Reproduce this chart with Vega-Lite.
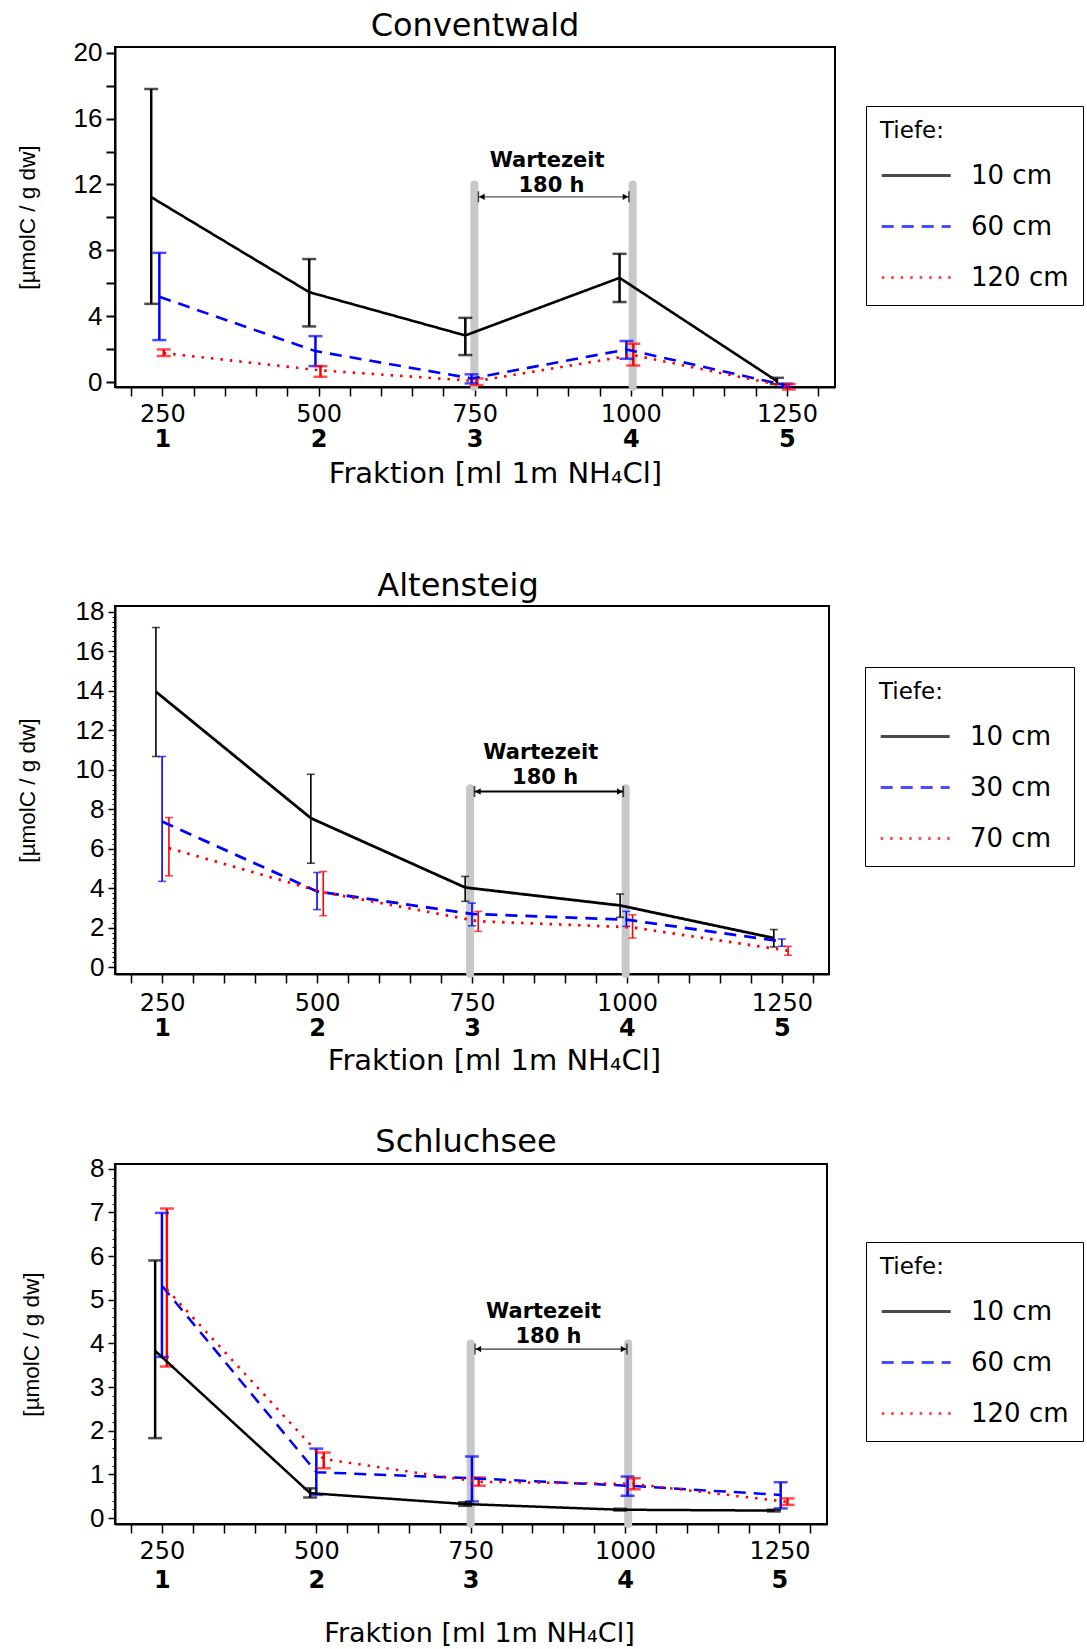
{
"$schema": "https://vega.github.io/schema/vega-lite/v6.json",
"background": "white",
"padding": {"left": 15, "top": 8, "right": 0, "bottom": 0},
"spacing": 79,
"config": {
  "font": "DejaVu Sans",
  "view": {"stroke": "black", "strokeWidth": 2},
  "axis": {"labelColor": "black", "tickColor": "black", "domainColor": "black", "titleColor": "black", "grid": false},
  "title": {"color": "black", "font": "DejaVu Sans", "fontSize": 32, "fontWeight": "normal", "frame": "group", "anchor": "middle"}
},
"resolve": {"scale": {"x": "independent", "y": "independent", "color": "independent", "strokeDash": "independent", "shape": "independent"}, "legend": {"color": "independent", "strokeDash": "independent"}},
"datasets": {
  "c_pts": [
    {"Tiefe": "10 cm", "x": 232, "y": 11.23, "lo": 4.75, "hi": 17.8},
    {"Tiefe": "10 cm", "x": 485, "y": 5.46, "lo": 3.38, "hi": 7.47},
    {"Tiefe": "10 cm", "x": 735, "y": 2.83, "lo": 1.64, "hi": 3.9},
    {"Tiefe": "10 cm", "x": 982, "y": 6.33, "lo": 4.86, "hi": 7.79},
    {"Tiefe": "10 cm", "x": 1234, "y": 0.06, "lo": -0.12, "hi": 0.26},
    {"Tiefe": "60 cm", "x": 245, "y": 5.18, "lo": 2.55, "hi": 7.85},
    {"Tiefe": "60 cm", "x": 495, "y": 1.88, "lo": 0.97, "hi": 2.79},
    {"Tiefe": "60 cm", "x": 745, "y": 0.22, "lo": -0.08, "hi": 0.47},
    {"Tiefe": "60 cm", "x": 993, "y": 1.98, "lo": 1.42, "hi": 2.49},
    {"Tiefe": "60 cm", "x": 1248, "y": -0.2, "lo": -0.3, "hi": -0.1},
    {"Tiefe": "120 cm", "x": 252, "y": 1.76, "lo": 1.58, "hi": 1.98},
    {"Tiefe": "120 cm", "x": 503, "y": 0.71, "lo": 0.32, "hi": 0.97},
    {"Tiefe": "120 cm", "x": 753, "y": 0.06, "lo": -0.18, "hi": 0.22},
    {"Tiefe": "120 cm", "x": 1004, "y": 1.64, "lo": 1.01, "hi": 2.33},
    {"Tiefe": "120 cm", "x": 1253, "y": -0.3, "lo": -0.45, "hi": -0.12}
  ],
  "c_band": [{"x": 749.5, "y1": -0.3, "y2": 12.0}, {"x": 1003, "y1": -0.3, "y2": 12.0}],
  "c_arrow": [{"x1": 756, "x2": 997, "y": 11.25}],
  "c_head": [{"xb": 756, "xt": 761.5, "y": 11.25, "d": "l"}, {"xb": 997, "xt": 991.5, "y": 11.25, "d": "r"}],
  "c_text": [{"x": 866, "y": 13.42, "t": "Wartezeit"}, {"x": 873, "y": 11.9, "t": "180 h"}],
  "a_pts": [
    {"Tiefe": "10 cm", "x": 240, "y": 13.95, "lo": 10.67, "hi": 17.2},
    {"Tiefe": "10 cm", "x": 490, "y": 7.55, "lo": 5.27, "hi": 9.77},
    {"Tiefe": "10 cm", "x": 739, "y": 4.04, "lo": 3.34, "hi": 4.6},
    {"Tiefe": "10 cm", "x": 989, "y": 3.13, "lo": 2.53, "hi": 3.71},
    {"Tiefe": "10 cm", "x": 1237, "y": 1.48, "lo": 1.03, "hi": 1.91},
    {"Tiefe": "30 cm", "x": 250, "y": 7.38, "lo": 4.35, "hi": 10.67},
    {"Tiefe": "30 cm", "x": 500, "y": 3.84, "lo": 2.92, "hi": 4.8},
    {"Tiefe": "30 cm", "x": 750, "y": 2.7, "lo": 2.1, "hi": 3.25},
    {"Tiefe": "30 cm", "x": 999, "y": 2.41, "lo": 2.07, "hi": 2.83},
    {"Tiefe": "30 cm", "x": 1250, "y": 1.31, "lo": 1.06, "hi": 1.43},
    {"Tiefe": "70  cm", "x": 261, "y": 6.03, "lo": 4.63, "hi": 7.58},
    {"Tiefe": "70  cm", "x": 510, "y": 3.8, "lo": 2.61, "hi": 4.85},
    {"Tiefe": "70  cm", "x": 760, "y": 2.33, "lo": 1.82, "hi": 2.83},
    {"Tiefe": "70  cm", "x": 1009, "y": 2.02, "lo": 1.48, "hi": 2.66},
    {"Tiefe": "70  cm", "x": 1260, "y": 0.84, "lo": 0.61, "hi": 1.06}
  ],
  "a_band": [{"x": 747, "y1": -0.34, "y2": 9.06}, {"x": 998, "y1": -0.34, "y2": 9.06}],
  "a_arrow": [{"x1": 754, "x2": 994, "y": 8.9}],
  "a_head": [{"xb": 754, "xt": 759.5, "y": 8.9, "d": "l"}, {"xb": 994, "xt": 988.5, "y": 8.9, "d": "r"}],
  "a_text": [{"x": 861, "y": 10.83, "t": "Wartezeit"}, {"x": 868, "y": 9.57, "t": "180 h"}],
  "s_pts": [
    {"Tiefe": "10 cm", "x": 239, "y": 3.83, "lo": 1.83, "hi": 5.9},
    {"Tiefe": "10 cm", "x": 490, "y": 0.57, "lo": 0.47, "hi": 0.68},
    {"Tiefe": "10 cm", "x": 741, "y": 0.32, "lo": 0.28, "hi": 0.36},
    {"Tiefe": "10 cm", "x": 992, "y": 0.19, "lo": 0.17, "hi": 0.21},
    {"Tiefe": "10 cm", "x": 1241, "y": 0.17, "lo": 0.15, "hi": 0.19},
    {"Tiefe": "60 cm", "x": 250, "y": 5.32, "lo": 3.69, "hi": 6.99},
    {"Tiefe": "60 cm", "x": 500, "y": 1.05, "lo": 0.53, "hi": 1.59},
    {"Tiefe": "60 cm", "x": 752, "y": 0.91, "lo": 0.38, "hi": 1.41},
    {"Tiefe": "60 cm", "x": 1004, "y": 0.74, "lo": 0.51, "hi": 0.95},
    {"Tiefe": "60 cm", "x": 1252, "y": 0.53, "lo": 0.22, "hi": 0.82},
    {"Tiefe": "120 cm", "x": 258, "y": 5.24, "lo": 3.47, "hi": 7.09},
    {"Tiefe": "120 cm", "x": 512, "y": 1.35, "lo": 1.14, "hi": 1.5},
    {"Tiefe": "120 cm", "x": 763, "y": 0.83, "lo": 0.74, "hi": 0.93},
    {"Tiefe": "120 cm", "x": 1014, "y": 0.78, "lo": 0.66, "hi": 0.91},
    {"Tiefe": "120 cm", "x": 1263, "y": 0.37, "lo": 0.3, "hi": 0.45}
  ],
  "s_band": [{"x": 750, "y1": -0.137, "y2": 4.0}, {"x": 1005, "y1": -0.137, "y2": 4.0}],
  "s_arrow": [{"x1": 757, "x2": 1003, "y": 3.87}],
  "s_head": [{"xb": 757, "xt": 762.5, "y": 3.87, "d": "l"}, {"xb": 1003, "xt": 997.5, "y": 3.87, "d": "r"}],
  "s_text": [{"x": 868, "y": 4.72, "t": "Wartezeit"}, {"x": 876, "y": 4.15, "t": "180 h"}]
},
"vconcat": [
{
  "title": {"text": "Conventwald", "offset": -3},
  "width": 720, "height": 340,
  "resolve": {"axis": {"x": "independent", "y": "independent"}},
  "layer": [
    {"data": {"name": "c_band"}, "mark": {"type": "rule", "stroke": "#c8c8c8", "strokeWidth": 8, "strokeCap": "round"},
     "encoding": {"x": {"field": "x", "type": "quantitative", "scale": {"domain": [174, 1327], "nice": false, "zero": false}, "axis": null},
                  "y": {"field": "y1", "type": "quantitative", "scale": {"domain": [-0.3, 20.35], "nice": false, "zero": false}, "axis": null},
                  "y2": {"field": "y2"}}},
    {"data": {"name": "c_arrow"}, "mark": {"type": "rule", "stroke": "#555555", "strokeWidth": 1.2},
     "encoding": {"x": {"field": "x1", "type": "quantitative", "scale": {"domain": [174, 1327], "nice": false, "zero": false}, "axis": null}, "x2": {"field": "x2"},
                  "y": {"field": "y", "type": "quantitative", "scale": {"domain": [-0.3, 20.35], "nice": false, "zero": false}, "axis": null}}},
    {"data": {"name": "c_head"}, "mark": {"type": "tick", "orient": "vertical", "color": "black", "size": 11, "thickness": 1.5},
     "encoding": {"x": {"field": "xb", "type": "quantitative", "scale": {"domain": [174, 1327], "nice": false, "zero": false}, "axis": null},
                  "y": {"field": "y", "type": "quantitative", "scale": {"domain": [-0.3, 20.35], "nice": false, "zero": false}, "axis": null}}},
    {"data": {"name": "c_head"}, "mark": {"type": "point", "filled": true, "color": "black", "size": 40, "opacity": 1},
     "encoding": {"x": {"field": "xt", "type": "quantitative", "scale": {"domain": [174, 1327], "nice": false, "zero": false}, "axis": null},
                  "y": {"field": "y", "type": "quantitative", "scale": {"domain": [-0.3, 20.35], "nice": false, "zero": false}, "axis": null},
                  "shape": {"field": "d", "type": "nominal", "scale": {"domain": ["l", "r"], "range": ["triangle-left", "triangle-right"]}, "legend": null}}},
    {"data": {"name": "c_text"}, "mark": {"type": "text", "fontSize": 21, "fontWeight": "bold", "color": "black", "baseline": "middle", "align": "center"},
     "encoding": {"x": {"field": "x", "type": "quantitative", "scale": {"domain": [174, 1327], "nice": false, "zero": false}, "axis": null},
                  "y": {"field": "y", "type": "quantitative", "scale": {"domain": [-0.3, 20.35], "nice": false, "zero": false}, "axis": null},
                  "text": {"field": "t"}}},
    {"data": {"name": "c_pts"}, "mark": {"type": "rule", "strokeWidth": 2.5},
     "encoding": {"x": {"field": "x", "type": "quantitative", "scale": {"domain": [174, 1327], "nice": false, "zero": false},
                        "axis": {"orient": "bottom", "values": [250, 500, 750, 1000, 1250], "labelExpr": "format(datum.value/250,'d')", "ticks": false, "tickSize": 0, "domain": false, "offset": 40, "labelPadding": 0, "labelFontSize": 24, "labelFontWeight": "bold", "labelFlush": false, "title": "Fraktion [ml 1m NH₄Cl]", "titleFontSize": 29, "titleFontWeight": "normal", "titlePadding": 8, "titleX": 380}},
                  "y": {"field": "lo", "type": "quantitative", "scale": {"domain": [-0.3, 20.35], "nice": false, "zero": false}, "axis": null},
                  "y2": {"field": "hi"},
                  "color": {"field": "Tiefe", "type": "nominal", "scale": {"domain": ["10 cm", "60 cm", "120 cm"], "range": ["#000000", "#0000ff", "#ff0000"]},
                            "legend": {"orient": "none", "legendX": 751, "legendY": 59, "title": "Tiefe:", "symbolType": "M-1,0H4", "symbolSize": 762, "symbolStrokeWidth": 3, "labelOffset": 60, "rowPadding": 22, "titlePadding": 17, "padding": 14, "strokeColor": "black", "fillColor": "white", "labelFontSize": 26, "titleFontSize": 23, "titleFontWeight": "normal", "labelColor": "black", "titleColor": "black"}}}},
    {"data": {"name": "c_pts"}, "mark": {"type": "tick", "orient": "horizontal", "size": 14, "thickness": 2.5},
     "encoding": {"x": {"field": "x", "type": "quantitative", "scale": {"domain": [174, 1327], "nice": false, "zero": false}, "axis": null},
                  "y": {"field": "lo", "type": "quantitative", "scale": {"domain": [-0.3, 20.35], "nice": false, "zero": false}, "axis": null},
                  "color": {"field": "Tiefe", "type": "nominal", "scale": {"domain": ["10 cm", "60 cm", "120 cm"], "range": ["#000000", "#0000ff", "#ff0000"]},
                            "legend": {"orient": "none", "legendX": 751, "legendY": 59, "title": "Tiefe:", "symbolType": "M-1,0H4", "symbolSize": 762, "symbolStrokeWidth": 3, "labelOffset": 60, "rowPadding": 22, "titlePadding": 17, "padding": 14, "strokeColor": "black", "fillColor": "white", "labelFontSize": 26, "titleFontSize": 23, "titleFontWeight": "normal", "labelColor": "black", "titleColor": "black"}}}},
    {"data": {"name": "c_pts"}, "mark": {"type": "tick", "orient": "horizontal", "size": 14, "thickness": 2.5},
     "encoding": {"x": {"field": "x", "type": "quantitative", "scale": {"domain": [174, 1327], "nice": false, "zero": false}, "axis": null},
                  "y": {"field": "hi", "type": "quantitative", "scale": {"domain": [-0.3, 20.35], "nice": false, "zero": false}, "axis": null},
                  "color": {"field": "Tiefe", "type": "nominal", "scale": {"domain": ["10 cm", "60 cm", "120 cm"], "range": ["#000000", "#0000ff", "#ff0000"]},
                            "legend": {"orient": "none", "legendX": 751, "legendY": 59, "title": "Tiefe:", "symbolType": "M-1,0H4", "symbolSize": 762, "symbolStrokeWidth": 3, "labelOffset": 60, "rowPadding": 22, "titlePadding": 17, "padding": 14, "strokeColor": "black", "fillColor": "white", "labelFontSize": 26, "titleFontSize": 23, "titleFontWeight": "normal", "labelColor": "black", "titleColor": "black"}}}},
    {"data": {"name": "c_pts"}, "mark": {"type": "line", "strokeWidth": 2.6},
     "encoding": {"x": {"field": "x", "type": "quantitative", "scale": {"domain": [174, 1327], "nice": false, "zero": false},
                        "axis": {"orient": "bottom", "values": [200, 250, 300, 350, 400, 450, 500, 550, 600, 650, 700, 750, 800, 850, 900, 950, 1000, 1050, 1100, 1150, 1200, 1250, 1300], "format": "d", "labelExpr": "datum.value % 250 == 0 ? datum.label : ''", "tickSize": 9, "tickWidth": 1.5, "labelFontSize": 24, "labelPadding": 6, "labelFlush": false, "labelOverlap": false, "domainWidth": 2, "title": null}},
                  "y": {"field": "y", "type": "quantitative", "scale": {"domain": [-0.3, 20.35], "nice": false, "zero": false},
                        "axis": {"orient": "left", "values": [0, 2, 4, 6, 8, 10, 12, 14, 16, 18, 20], "labelExpr": "datum.value % 4 == 0 ? datum.label : ''", "tickSize": 9, "tickWidth": 2, "labelFont": "Liberation Sans", "labelFontSize": 26, "labelPadding": 4, "domainWidth": 2, "title": "[µmolC / g dw]", "titleFont": "Liberation Sans", "titleFontSize": 22.5, "titleFontWeight": "normal", "titlePadding": 34}},
                  "color": {"field": "Tiefe", "type": "nominal", "scale": {"domain": ["10 cm", "60 cm", "120 cm"], "range": ["#000000", "#0000ff", "#ff0000"]},
                            "legend": {"orient": "none", "legendX": 751, "legendY": 59, "title": "Tiefe:", "symbolType": "M-1,0H4", "symbolSize": 762, "symbolStrokeWidth": 3, "labelOffset": 60, "rowPadding": 22, "titlePadding": 17, "padding": 14, "strokeColor": "black", "fillColor": "white", "labelFontSize": 26, "titleFontSize": 23, "titleFontWeight": "normal", "labelColor": "black", "titleColor": "black"}},
                  "strokeDash": {"field": "Tiefe", "type": "nominal", "scale": {"domain": ["10 cm", "60 cm", "120 cm"], "range": [[1, 0], [12, 8], [2.5, 7]]},
                            "legend": {"orient": "none", "legendX": 751, "legendY": 59, "title": "Tiefe:", "symbolType": "M-1,0H4", "symbolSize": 762, "symbolStrokeWidth": 3, "labelOffset": 60, "rowPadding": 22, "titlePadding": 17, "padding": 14, "strokeColor": "black", "fillColor": "white", "labelFontSize": 26, "titleFontSize": 23, "titleFontWeight": "normal", "labelColor": "black", "titleColor": "black"}}}}
  ]
},
{
"spacing": 48,
"resolve": {"scale": {"x": "independent", "y": "independent", "color": "independent", "strokeDash": "independent", "shape": "independent"}, "legend": {"color": "independent", "strokeDash": "independent"}},
"vconcat": [
{
  "title": {"text": "Altensteig", "dx": -14, "offset": -4},
  "width": 714, "height": 368,
  "resolve": {"axis": {"x": "independent", "y": "independent"}},
  "layer": [
    {"data": {"name": "a_band"}, "mark": {"type": "rule", "stroke": "#c8c8c8", "strokeWidth": 8, "strokeCap": "round"},
     "encoding": {"x": {"field": "x", "type": "quantitative", "scale": {"domain": [174, 1326], "nice": false, "zero": false}, "axis": null},
                  "y": {"field": "y1", "type": "quantitative", "scale": {"domain": [-0.34, 18.29], "nice": false, "zero": false},
                        "axis": {"orient": "left", "values": [0, 0.25, 0.5, 0.75, 1, 1.25, 1.5, 1.75, 2, 2.25, 2.5, 2.75, 3, 3.25, 3.5, 3.75, 4, 4.25, 4.5, 4.75, 5, 5.25, 5.5, 5.75, 6, 6.25, 6.5, 6.75, 7, 7.25, 7.5, 7.75, 8, 8.25, 8.5, 8.75, 9, 9.25, 9.5, 9.75, 10, 10.25, 10.5, 10.75, 11, 11.25, 11.5, 11.75, 12, 12.25, 12.5, 12.75, 13, 13.25, 13.5, 13.75, 14, 14.25, 14.5, 14.75, 15, 15.25, 15.5, 15.75, 16, 16.25, 16.5, 16.75, 17, 17.25, 17.5, 17.75, 18], "labels": false, "tickSize": 3, "tickWidth": 1, "domain": false, "title": null}},
                  "y2": {"field": "y2"}}},
    {"data": {"name": "a_arrow"}, "mark": {"type": "rule", "stroke": "black", "strokeWidth": 2},
     "encoding": {"x": {"field": "x1", "type": "quantitative", "scale": {"domain": [174, 1326], "nice": false, "zero": false}, "axis": null}, "x2": {"field": "x2"},
                  "y": {"field": "y", "type": "quantitative", "scale": {"domain": [-0.34, 18.29], "nice": false, "zero": false}, "axis": null}}},
    {"data": {"name": "a_head"}, "mark": {"type": "tick", "orient": "vertical", "color": "black", "size": 11, "thickness": 1.8},
     "encoding": {"x": {"field": "xb", "type": "quantitative", "scale": {"domain": [174, 1326], "nice": false, "zero": false}, "axis": null},
                  "y": {"field": "y", "type": "quantitative", "scale": {"domain": [-0.34, 18.29], "nice": false, "zero": false}, "axis": null}}},
    {"data": {"name": "a_head"}, "mark": {"type": "point", "filled": true, "color": "black", "size": 40, "opacity": 1},
     "encoding": {"x": {"field": "xt", "type": "quantitative", "scale": {"domain": [174, 1326], "nice": false, "zero": false}, "axis": null},
                  "y": {"field": "y", "type": "quantitative", "scale": {"domain": [-0.34, 18.29], "nice": false, "zero": false}, "axis": null},
                  "shape": {"field": "d", "type": "nominal", "scale": {"domain": ["l", "r"], "range": ["triangle-left", "triangle-right"]}, "legend": null}}},
    {"data": {"name": "a_text"}, "mark": {"type": "text", "fontSize": 21, "fontWeight": "bold", "color": "black", "baseline": "middle", "align": "center"},
     "encoding": {"x": {"field": "x", "type": "quantitative", "scale": {"domain": [174, 1326], "nice": false, "zero": false}, "axis": null},
                  "y": {"field": "y", "type": "quantitative", "scale": {"domain": [-0.34, 18.29], "nice": false, "zero": false}, "axis": null},
                  "text": {"field": "t"}}},
    {"data": {"name": "a_pts"}, "mark": {"type": "rule", "strokeWidth": 1.6},
     "encoding": {"x": {"field": "x", "type": "quantitative", "scale": {"domain": [174, 1326], "nice": false, "zero": false},
                        "axis": {"orient": "bottom", "values": [250, 500, 750, 1000, 1250], "labelExpr": "format(datum.value/250,'d')", "ticks": false, "tickSize": 0, "domain": false, "offset": 42, "labelPadding": 0, "labelFontSize": 24, "labelFontWeight": "bold", "labelFlush": false, "title": "Fraktion [ml 1m NH₄Cl]", "titleFontSize": 29, "titleFontWeight": "normal", "titlePadding": 6, "titleX": 379}},
                  "y": {"field": "lo", "type": "quantitative", "scale": {"domain": [-0.34, 18.29], "nice": false, "zero": false}, "axis": null},
                  "y2": {"field": "hi"},
                  "color": {"field": "Tiefe", "type": "nominal", "scale": {"domain": ["10 cm", "30 cm", "70  cm"], "range": ["#000000", "#0000ff", "#ff0000"]},
                            "legend": {"orient": "none", "legendX": 750, "legendY": 61, "title": "Tiefe:", "symbolType": "M-1,0H4", "symbolSize": 762, "symbolStrokeWidth": 3, "labelOffset": 60, "rowPadding": 22, "titlePadding": 17, "padding": 14, "strokeColor": "black", "fillColor": "white", "labelFontSize": 26, "titleFontSize": 23, "titleFontWeight": "normal", "labelColor": "black", "titleColor": "black"}}}},
    {"data": {"name": "a_pts"}, "mark": {"type": "tick", "orient": "horizontal", "size": 8, "thickness": 1.6},
     "encoding": {"x": {"field": "x", "type": "quantitative", "scale": {"domain": [174, 1326], "nice": false, "zero": false}, "axis": null},
                  "y": {"field": "lo", "type": "quantitative", "scale": {"domain": [-0.34, 18.29], "nice": false, "zero": false}, "axis": null},
                  "color": {"field": "Tiefe", "type": "nominal", "scale": {"domain": ["10 cm", "30 cm", "70  cm"], "range": ["#000000", "#0000ff", "#ff0000"]},
                            "legend": {"orient": "none", "legendX": 750, "legendY": 61, "title": "Tiefe:", "symbolType": "M-1,0H4", "symbolSize": 762, "symbolStrokeWidth": 3, "labelOffset": 60, "rowPadding": 22, "titlePadding": 17, "padding": 14, "strokeColor": "black", "fillColor": "white", "labelFontSize": 26, "titleFontSize": 23, "titleFontWeight": "normal", "labelColor": "black", "titleColor": "black"}}}},
    {"data": {"name": "a_pts"}, "mark": {"type": "tick", "orient": "horizontal", "size": 8, "thickness": 1.6},
     "encoding": {"x": {"field": "x", "type": "quantitative", "scale": {"domain": [174, 1326], "nice": false, "zero": false}, "axis": null},
                  "y": {"field": "hi", "type": "quantitative", "scale": {"domain": [-0.34, 18.29], "nice": false, "zero": false}, "axis": null},
                  "color": {"field": "Tiefe", "type": "nominal", "scale": {"domain": ["10 cm", "30 cm", "70  cm"], "range": ["#000000", "#0000ff", "#ff0000"]},
                            "legend": {"orient": "none", "legendX": 750, "legendY": 61, "title": "Tiefe:", "symbolType": "M-1,0H4", "symbolSize": 762, "symbolStrokeWidth": 3, "labelOffset": 60, "rowPadding": 22, "titlePadding": 17, "padding": 14, "strokeColor": "black", "fillColor": "white", "labelFontSize": 26, "titleFontSize": 23, "titleFontWeight": "normal", "labelColor": "black", "titleColor": "black"}}}},
    {"data": {"name": "a_pts"}, "mark": {"type": "line", "strokeWidth": 2.8},
     "encoding": {"x": {"field": "x", "type": "quantitative", "scale": {"domain": [174, 1326], "nice": false, "zero": false},
                        "axis": {"orient": "bottom", "values": [200, 250, 300, 350, 400, 450, 500, 550, 600, 650, 700, 750, 800, 850, 900, 950, 1000, 1050, 1100, 1150, 1200, 1250, 1300], "format": "d", "labelExpr": "datum.value % 250 == 0 ? datum.label : ''", "tickSize": 9, "tickWidth": 1.5, "labelFontSize": 24, "labelPadding": 8, "labelFlush": false, "labelOverlap": false, "domainWidth": 2, "title": null}},
                  "y": {"field": "y", "type": "quantitative", "scale": {"domain": [-0.34, 18.29], "nice": false, "zero": false},
                        "axis": {"orient": "left", "values": [0, 2, 4, 6, 8, 10, 12, 14, 16, 18], "tickSize": 7, "tickWidth": 1.5, "labelFont": "Liberation Sans", "labelFontSize": 26, "labelPadding": 4, "domainWidth": 2, "title": "[µmolC / g dw]", "titleFont": "Liberation Sans", "titleFontSize": 22.5, "titleFontWeight": "normal", "titlePadding": 36}},
                  "color": {"field": "Tiefe", "type": "nominal", "scale": {"domain": ["10 cm", "30 cm", "70  cm"], "range": ["#000000", "#0000ff", "#ff0000"]},
                            "legend": {"orient": "none", "legendX": 750, "legendY": 61, "title": "Tiefe:", "symbolType": "M-1,0H4", "symbolSize": 762, "symbolStrokeWidth": 3, "labelOffset": 60, "rowPadding": 22, "titlePadding": 17, "padding": 14, "strokeColor": "black", "fillColor": "white", "labelFontSize": 26, "titleFontSize": 23, "titleFontWeight": "normal", "labelColor": "black", "titleColor": "black"}},
                  "strokeDash": {"field": "Tiefe", "type": "nominal", "scale": {"domain": ["10 cm", "30 cm", "70  cm"], "range": [[1, 0], [12, 8], [2.5, 7]]},
                            "legend": {"orient": "none", "legendX": 750, "legendY": 61, "title": "Tiefe:", "symbolType": "M-1,0H4", "symbolSize": 762, "symbolStrokeWidth": 3, "labelOffset": 60, "rowPadding": 22, "titlePadding": 17, "padding": 14, "strokeColor": "black", "fillColor": "white", "labelFontSize": 26, "titleFontSize": 23, "titleFontWeight": "normal", "labelColor": "black", "titleColor": "black"}}}}
  ]
},
{
  "title": {"text": "Schluchsee", "dx": -5, "offset": -3},
  "width": 712, "height": 360,
  "resolve": {"axis": {"x": "independent", "y": "independent"}},
  "layer": [
    {"data": {"name": "s_band"}, "mark": {"type": "rule", "stroke": "#c8c8c8", "strokeWidth": 8, "strokeCap": "round"},
     "encoding": {"x": {"field": "x", "type": "quantitative", "scale": {"domain": [174, 1327], "nice": false, "zero": false}, "axis": null},
                  "y": {"field": "y1", "type": "quantitative", "scale": {"domain": [-0.137, 8.11], "nice": false, "zero": false},
                        "axis": {"orient": "left", "values": [0, 0.2, 0.4, 0.6, 0.8, 1, 1.2, 1.4, 1.6, 1.8, 2, 2.2, 2.4, 2.6, 2.8, 3, 3.2, 3.4, 3.6, 3.8, 4, 4.2, 4.4, 4.6, 4.8, 5, 5.2, 5.4, 5.6, 5.8, 6, 6.2, 6.4, 6.6, 6.8, 7, 7.2, 7.4, 7.6, 7.8, 8], "labels": false, "tickSize": 3, "tickWidth": 1, "domain": false, "title": null}},
                  "y2": {"field": "y2"}}},
    {"data": {"name": "s_arrow"}, "mark": {"type": "rule", "stroke": "#333333", "strokeWidth": 1.3},
     "encoding": {"x": {"field": "x1", "type": "quantitative", "scale": {"domain": [174, 1327], "nice": false, "zero": false}, "axis": null}, "x2": {"field": "x2"},
                  "y": {"field": "y", "type": "quantitative", "scale": {"domain": [-0.137, 8.11], "nice": false, "zero": false}, "axis": null}}},
    {"data": {"name": "s_head"}, "mark": {"type": "tick", "orient": "vertical", "color": "black", "size": 11, "thickness": 1.5},
     "encoding": {"x": {"field": "xb", "type": "quantitative", "scale": {"domain": [174, 1327], "nice": false, "zero": false}, "axis": null},
                  "y": {"field": "y", "type": "quantitative", "scale": {"domain": [-0.137, 8.11], "nice": false, "zero": false}, "axis": null}}},
    {"data": {"name": "s_head"}, "mark": {"type": "point", "filled": true, "color": "black", "size": 40, "opacity": 1},
     "encoding": {"x": {"field": "xt", "type": "quantitative", "scale": {"domain": [174, 1327], "nice": false, "zero": false}, "axis": null},
                  "y": {"field": "y", "type": "quantitative", "scale": {"domain": [-0.137, 8.11], "nice": false, "zero": false}, "axis": null},
                  "shape": {"field": "d", "type": "nominal", "scale": {"domain": ["l", "r"], "range": ["triangle-left", "triangle-right"]}, "legend": null}}},
    {"data": {"name": "s_text"}, "mark": {"type": "text", "fontSize": 21, "fontWeight": "bold", "color": "black", "baseline": "middle", "align": "center"},
     "encoding": {"x": {"field": "x", "type": "quantitative", "scale": {"domain": [174, 1327], "nice": false, "zero": false}, "axis": null},
                  "y": {"field": "y", "type": "quantitative", "scale": {"domain": [-0.137, 8.11], "nice": false, "zero": false}, "axis": null},
                  "text": {"field": "t"}}},
    {"data": {"name": "s_pts"}, "mark": {"type": "rule", "strokeWidth": 2.5},
     "encoding": {"x": {"field": "x", "type": "quantitative", "scale": {"domain": [174, 1327], "nice": false, "zero": false},
                        "axis": {"orient": "bottom", "values": [250, 500, 750, 1000, 1250], "labelExpr": "format(datum.value/250,'d')", "ticks": false, "tickSize": 0, "domain": false, "offset": 44, "labelPadding": 0, "labelFontSize": 24, "labelFontWeight": "bold", "labelFlush": false, "title": "Fraktion [ml 1m NH₄Cl]", "titleFontSize": 27, "titleFontWeight": "normal", "titlePadding": 28, "titleX": 364}},
                  "y": {"field": "lo", "type": "quantitative", "scale": {"domain": [-0.137, 8.11], "nice": false, "zero": false}, "axis": null},
                  "y2": {"field": "hi"},
                  "color": {"field": "Tiefe", "type": "nominal", "scale": {"domain": ["10 cm", "60 cm", "120 cm"], "range": ["#000000", "#0000ff", "#ff0000"]},
                            "legend": {"orient": "none", "legendX": 751, "legendY": 78, "title": "Tiefe:", "symbolType": "M-1,0H4", "symbolSize": 762, "symbolStrokeWidth": 3, "labelOffset": 60, "rowPadding": 22, "titlePadding": 17, "padding": 14, "strokeColor": "black", "fillColor": "white", "labelFontSize": 26, "titleFontSize": 23, "titleFontWeight": "normal", "labelColor": "black", "titleColor": "black"}}}},
    {"data": {"name": "s_pts"}, "mark": {"type": "tick", "orient": "horizontal", "size": 14, "thickness": 2.5},
     "encoding": {"x": {"field": "x", "type": "quantitative", "scale": {"domain": [174, 1327], "nice": false, "zero": false}, "axis": null},
                  "y": {"field": "lo", "type": "quantitative", "scale": {"domain": [-0.137, 8.11], "nice": false, "zero": false}, "axis": null},
                  "color": {"field": "Tiefe", "type": "nominal", "scale": {"domain": ["10 cm", "60 cm", "120 cm"], "range": ["#000000", "#0000ff", "#ff0000"]},
                            "legend": {"orient": "none", "legendX": 751, "legendY": 78, "title": "Tiefe:", "symbolType": "M-1,0H4", "symbolSize": 762, "symbolStrokeWidth": 3, "labelOffset": 60, "rowPadding": 22, "titlePadding": 17, "padding": 14, "strokeColor": "black", "fillColor": "white", "labelFontSize": 26, "titleFontSize": 23, "titleFontWeight": "normal", "labelColor": "black", "titleColor": "black"}}}},
    {"data": {"name": "s_pts"}, "mark": {"type": "tick", "orient": "horizontal", "size": 14, "thickness": 2.5},
     "encoding": {"x": {"field": "x", "type": "quantitative", "scale": {"domain": [174, 1327], "nice": false, "zero": false}, "axis": null},
                  "y": {"field": "hi", "type": "quantitative", "scale": {"domain": [-0.137, 8.11], "nice": false, "zero": false}, "axis": null},
                  "color": {"field": "Tiefe", "type": "nominal", "scale": {"domain": ["10 cm", "60 cm", "120 cm"], "range": ["#000000", "#0000ff", "#ff0000"]},
                            "legend": {"orient": "none", "legendX": 751, "legendY": 78, "title": "Tiefe:", "symbolType": "M-1,0H4", "symbolSize": 762, "symbolStrokeWidth": 3, "labelOffset": 60, "rowPadding": 22, "titlePadding": 17, "padding": 14, "strokeColor": "black", "fillColor": "white", "labelFontSize": 26, "titleFontSize": 23, "titleFontWeight": "normal", "labelColor": "black", "titleColor": "black"}}}},
    {"data": {"name": "s_pts"}, "mark": {"type": "line", "strokeWidth": 2.5},
     "encoding": {"x": {"field": "x", "type": "quantitative", "scale": {"domain": [174, 1327], "nice": false, "zero": false},
                        "axis": {"orient": "bottom", "values": [200, 250, 300, 350, 400, 450, 500, 550, 600, 650, 700, 750, 800, 850, 900, 950, 1000, 1050, 1100, 1150, 1200, 1250, 1300], "format": "d", "labelExpr": "datum.value % 250 == 0 ? datum.label : ''", "tickSize": 9, "tickWidth": 1.5, "labelFontSize": 24, "labelPadding": 6, "labelFlush": false, "labelOverlap": false, "domainWidth": 2, "title": null}},
                  "y": {"field": "y", "type": "quantitative", "scale": {"domain": [-0.137, 8.11], "nice": false, "zero": false},
                        "axis": {"orient": "left", "values": [0, 1, 2, 3, 4, 5, 6, 7, 8], "tickSize": 7, "tickWidth": 1.5, "labelFont": "Liberation Sans", "labelFontSize": 26, "labelPadding": 4, "domainWidth": 2, "title": "[µmolC / g dw]", "titleFont": "Liberation Sans", "titleFontSize": 22.5, "titleFontWeight": "normal", "titlePadding": 46}},
                  "color": {"field": "Tiefe", "type": "nominal", "scale": {"domain": ["10 cm", "60 cm", "120 cm"], "range": ["#000000", "#0000ff", "#ff0000"]},
                            "legend": {"orient": "none", "legendX": 751, "legendY": 78, "title": "Tiefe:", "symbolType": "M-1,0H4", "symbolSize": 762, "symbolStrokeWidth": 3, "labelOffset": 60, "rowPadding": 22, "titlePadding": 17, "padding": 14, "strokeColor": "black", "fillColor": "white", "labelFontSize": 26, "titleFontSize": 23, "titleFontWeight": "normal", "labelColor": "black", "titleColor": "black"}},
                  "strokeDash": {"field": "Tiefe", "type": "nominal", "scale": {"domain": ["10 cm", "60 cm", "120 cm"], "range": [[1, 0], [12, 8], [2.5, 7]]},
                            "legend": {"orient": "none", "legendX": 751, "legendY": 78, "title": "Tiefe:", "symbolType": "M-1,0H4", "symbolSize": 762, "symbolStrokeWidth": 3, "labelOffset": 60, "rowPadding": 22, "titlePadding": 17, "padding": 14, "strokeColor": "black", "fillColor": "white", "labelFontSize": 26, "titleFontSize": 23, "titleFontWeight": "normal", "labelColor": "black", "titleColor": "black"}}}}
  ]
}
]
}
]
}
